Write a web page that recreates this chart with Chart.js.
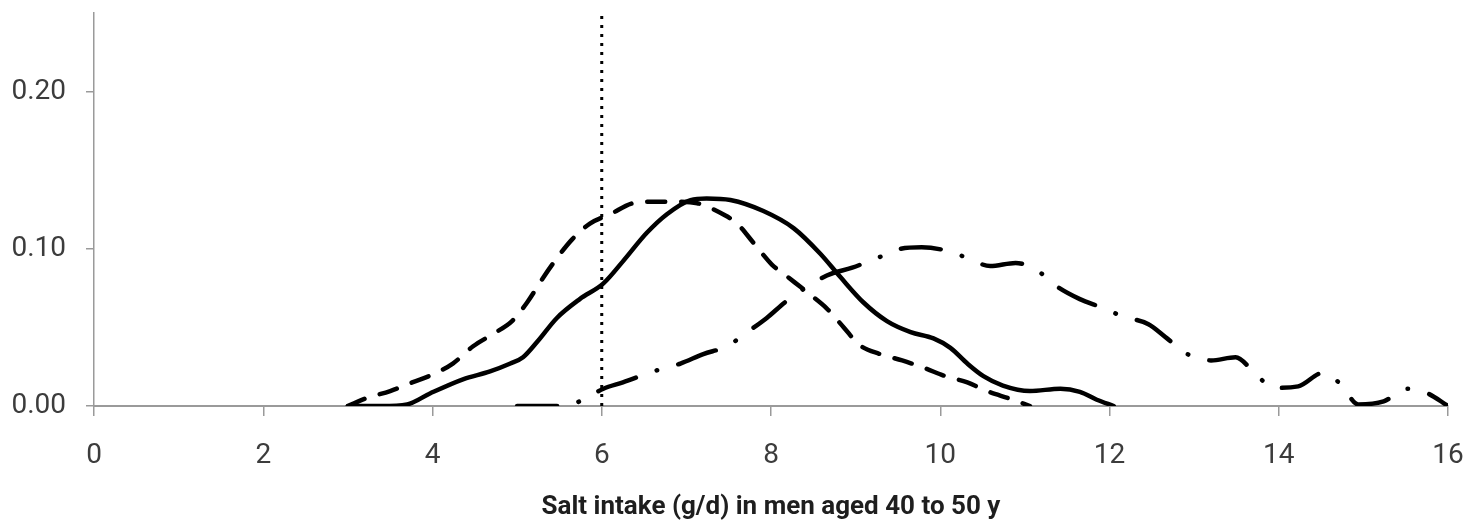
<!DOCTYPE html>
<html>
<head>
<meta charset="utf-8">
<script src="https://cdn.jsdelivr.net/npm/chart.js@4.4.1/dist/chart.umd.min.js"></script>
<style>
  html, body { margin: 0; padding: 0; background: #ffffff; }
  #wrap { width: 1471px; height: 527px; position: relative; }
</style>
</head>
<body>
<div id="wrap"><canvas id="c" width="1471" height="527"></canvas></div>
<script>
// ---- data ----
const xTicks = [0, 2, 4, 6, 8, 10, 12, 14, 16];
const yTicks = [0, 0.1, 0.2];
const xTitle = 'Salt intake (g/d) in men aged 40 to 50 y';

const solidX = [3.0, 3.4, 3.7, 3.97, 4.36, 4.68, 4.92, 5.07, 5.24, 5.47, 5.74, 6.02, 6.25, 6.53, 6.77, 7.05, 7.24, 7.52, 7.91, 8.27, 8.58, 8.82, 9.09, 9.37, 9.65, 9.92, 10.12, 10.32, 10.51, 10.74, 11.06, 11.42, 11.65, 11.85, 12.05];
const solidY = [0, 0, 0.001, 0.008, 0.017, 0.022, 0.027, 0.031, 0.041, 0.056, 0.068, 0.078, 0.092, 0.110, 0.122, 0.131, 0.132, 0.131, 0.124, 0.113, 0.097, 0.082, 0.066, 0.054, 0.047, 0.043, 0.037, 0.027, 0.019, 0.013, 0.0095, 0.011, 0.009, 0.004, 0];

const dashX = [3.0, 3.22, 3.5, 3.76, 4.0, 4.24, 4.48, 4.72, 4.94, 5.12, 5.3, 5.47, 5.65, 5.86, 6.1, 6.37, 6.61, 6.89, 7.13, 7.36, 7.6, 7.79, 8.01, 8.2, 8.46, 8.66, 8.86, 9.04, 9.29, 9.55, 9.82, 10.06, 10.32, 10.55, 10.83, 11.06];
const dashY = [0, 0.005, 0.0095, 0.015, 0.02, 0.027, 0.038, 0.046, 0.054, 0.066, 0.081, 0.094, 0.106, 0.116, 0.122, 0.129, 0.130, 0.130, 0.129, 0.124, 0.116, 0.104, 0.090, 0.082, 0.071, 0.062, 0.050, 0.039, 0.033, 0.029, 0.024, 0.019, 0.015, 0.0095, 0.0045, 0];

const dotDashX = [5.0, 5.55, 5.74, 6.02, 6.25, 6.61, 6.93, 7.2, 7.48, 7.72, 7.95, 8.19, 8.66, 8.96, 9.25, 9.53, 9.78, 10.06, 10.33, 10.59, 10.89, 11.15, 11.38, 11.65, 11.89, 12.16, 12.46, 12.68, 12.92, 13.2, 13.49, 13.7, 13.94, 14.23, 14.52, 14.73, 14.94, 15.24, 15.52, 15.76, 16.0];
const dotDashY = [0, 0, 0.003, 0.011, 0.015, 0.022, 0.027, 0.033, 0.038, 0.047, 0.056, 0.067, 0.083, 0.088, 0.094, 0.100, 0.101, 0.099, 0.094, 0.089, 0.091, 0.086, 0.076, 0.068, 0.063, 0.057, 0.052, 0.043, 0.033, 0.029, 0.031, 0.022, 0.0115, 0.0125, 0.021, 0.014, 0.001, 0.003, 0.011, 0.008, 0];

const refLineX = [6, 6];
const refLineY = [0, 0.25];

// ---- build ----
const pts = (xs, ys) => xs.map((x, i) => ({ x: x, y: ys[i] }));
const FONT = 'Roboto, "Liberation Sans", sans-serif';
const AXIS = '#9a9a9a';

const base = { showLine: true, pointRadius: 0, pointHoverRadius: 0, fill: false, borderColor: '#000000', cubicInterpolationMode: 'monotone', borderCapStyle: 'round', borderJoinStyle: 'round' };

new Chart(document.getElementById('c'), {
  type: 'scatter',
  data: {
    datasets: [
      Object.assign({}, base, { label: 'solid', data: pts(solidX, solidY), borderWidth: 4.5 }),
      Object.assign({}, base, { label: 'dashed', data: pts(dashX, dashY), borderWidth: 4.5, borderDash: [18, 16] }),
      Object.assign({}, base, { label: 'dash-dot', data: pts(dotDashX, dotDashY), borderWidth: 4.5, borderDash: [40, 22, 0.5, 22] }),
      Object.assign({}, base, { label: 'ref', data: pts(refLineX, refLineY), borderWidth: 3, borderDash: [3, 6], borderCapStyle: 'butt', cubicInterpolationMode: 'default', tension: 0 })
    ]
  },
  options: {
    responsive: false,
    animation: false,
    events: [],
    layout: { padding: { left: 0, right: 23, top: 13, bottom: 0 } },
    plugins: { legend: { display: false }, tooltip: { enabled: false } },
    scales: {
      x: {
        type: 'linear', min: 0, max: 16,
        afterBuildTicks: (s) => { s.ticks = xTicks.map(v => ({ value: v })); },
        afterFit: (s) => { s.height = 121; s.paddingLeft = 0; s.paddingRight = 0; },
        border: { display: true, color: AXIS, width: 2 },
        grid: { display: true, drawOnChartArea: false, drawTicks: true, tickLength: 10, color: AXIS, lineWidth: 1.5 },
        ticks: { color: '#3c3c3c', font: { family: FONT, size: 28 }, padding: 23, maxRotation: 0, autoSkip: false, callback: (v) => String(v) },
        title: { display: true, text: xTitle, color: '#1e1e1e', font: { family: FONT, size: 26, weight: '700' }, padding: { top: 0, bottom: 4 } }
      },
      y: {
        type: 'linear', min: 0, max: 0.25,
        afterBuildTicks: (s) => { s.ticks = yTicks.map(v => ({ value: v })); },
        afterFit: (s) => { s.width = 94; s.paddingTop = 0; s.paddingBottom = 0; },
        border: { display: true, color: AXIS, width: 1.5 },
        grid: { display: true, drawOnChartArea: false, drawTicks: true, tickLength: 8, color: AXIS, lineWidth: 1.5 },
        ticks: { color: '#3c3c3c', font: { family: FONT, size: 28 }, padding: 20, callback: (v) => Number(v).toFixed(2) }
      }
    }
  }
});
</script>
</body>
</html>
